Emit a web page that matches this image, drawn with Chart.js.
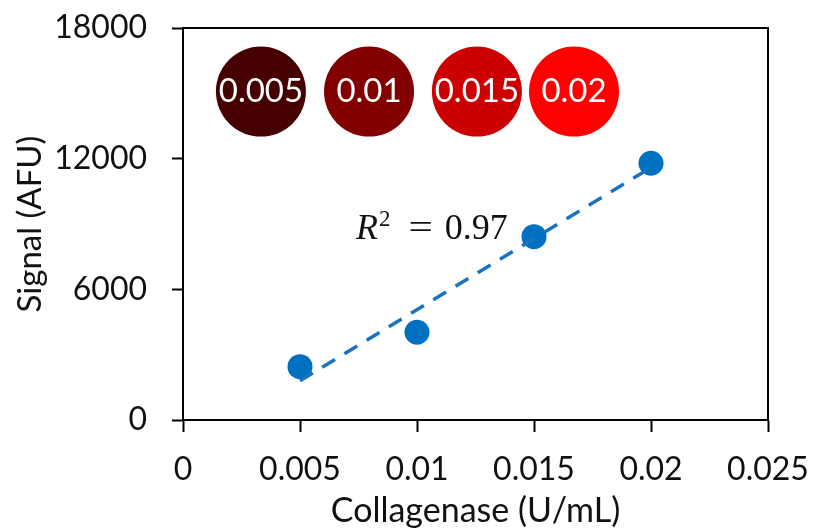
<!DOCTYPE html>
<html><head><meta charset="utf-8">
<script src="https://cdn.jsdelivr.net/npm/chart.js@4.4.0/dist/chart.umd.min.js"></script>
<style>html,body{margin:0;padding:0;background:#fff}</style>
</head><body>
<canvas id="c" width="815" height="531"></canvas>
<script>
// ---- data ----
const concentrations = [0.005, 0.01, 0.015, 0.02];
const signal = [2450, 4030, 8420, 11790];
const trendX = [0.005, 0.02];
const trendY = [1800, 11600];
const xTickValues = [0, 0.005, 0.01, 0.015, 0.02, 0.025];
const xTickLabels = ['0', '0.005', '0.01', '0.015', '0.02', '0.025'];
const yTickValues = [0, 6000, 12000, 18000];
const yTickLabels = ['0', '6000', '12000', '18000'];
const wellLabels = ['0.005', '0.01', '0.015', '0.02'];
const wellX = [0.00333, 0.00795, 0.01256, 0.01671];
const wellY = [15080, 15080, 15080, 15080];
const wellColors = ['#470000', '#820000', '#cc0000', '#ff0000'];
const r2Value = '0.97';
const r2At = {x: 0.00739, y: 8310};
const xTitle = 'Collagenase (U/mL)';
const yTitle = 'Signal (AFU)';

const FONT = 'Lato';
const INK = '#111111';

const framePlugin = {
  id: 'frame',
  afterDatasetsDraw(chart) {
    const {ctx, chartArea: a} = chart;
    ctx.save();
    ctx.strokeStyle = '#000';
    ctx.lineWidth = 2;
    ctx.beginPath();
    ctx.moveTo(a.left, a.top);
    ctx.lineTo(a.right, a.top);
    ctx.lineTo(a.right, a.bottom);
    ctx.stroke();
    // well labels
    const meta = chart.getDatasetMeta(2);
    ctx.fillStyle = '#ffffff';
    ctx.font = '33px ' + FONT;
    ctx.textAlign = 'center';
    ctx.textBaseline = 'middle';
    meta.data.forEach((el, i) => {
      ctx.fillText(wellLabels[i], el.x, el.y);
    });
    // R^2 annotation
    const xs = chart.scales.x, ys = chart.scales.y;
    let px = xs.getPixelForValue(r2At.x);
    const py = ys.getPixelForValue(r2At.y);
    ctx.fillStyle = INK;
    ctx.textAlign = 'left';
    ctx.textBaseline = 'alphabetic';
    ctx.font = 'italic 36px "Liberation Serif"';
    ctx.fillText('R', px, py);
    px += ctx.measureText('R').width + 1;
    ctx.font = '23px "Liberation Serif"';
    ctx.fillText('2', px, py - 13);
    px += ctx.measureText('2').width + 18;
    ctx.font = '36px "Liberation Serif"';
    ctx.save();
    ctx.scale(1.2, 1);
    ctx.fillText('=', px / 1.2, py);
    ctx.restore();
    px += ctx.measureText('=').width * 1.2 + 12;
    ctx.fillText(r2Value, px, py);
    ctx.restore();
  }
};

new Chart(document.getElementById('c'), {
  type: 'scatter',
  data: {
    datasets: [
      {
        label: 'trend',
        type: 'line',
        data: trendX.map((x, i) => ({x, y: trendY[i]})),
        borderColor: '#1a73c2',
        borderWidth: 3.5,
        borderDash: [15, 11],
        pointRadius: 0,
        fill: false,
        order: 0
      },
      {
        label: 'signal',
        data: concentrations.map((x, i) => ({x, y: signal[i]})),
        backgroundColor: '#0070C0',
        borderWidth: 0,
        pointRadius: 12.5,
        order: 1
      },
      {
        label: 'wells',
        data: wellX.map((x, i) => ({x, y: wellY[i]})),
        backgroundColor: wellColors,
        borderWidth: 0,
        pointRadius: 45,
        order: 2
      }
    ]
  },
  options: {
    responsive: false,
    animation: false,
    events: [],
    layout: {autoPadding: false, padding: {left: 0, right: 47, top: 28, bottom: 0}},
    plugins: {legend: {display: false}, tooltip: {enabled: false}},
    scales: {
      x: {
        type: 'linear',
        min: 0, max: 0.025,
        afterBuildTicks: s => { s.ticks = xTickValues.map(v => ({value: v})); },
        afterFit: s => { s.height = 111; s.paddingLeft = 0; s.paddingRight = 0; },
        grid: {drawOnChartArea: false, drawTicks: true, tickLength: 12, tickColor: '#000', tickWidth: 2},
        border: {display: true, color: '#000', width: 2},
        ticks: {
          padding: 18,
          color: INK,
          font: {family: FONT, size: 32},
          maxRotation: 0,
          autoSkip: false,
          callback: (v, i) => xTickLabels[i]
        },
        title: {display: true, text: xTitle, color: INK, font: {family: FONT, size: 34}, padding: {top: 0, bottom: 0}}
      },
      y: {
        type: 'linear',
        min: 0, max: 18000,
        afterBuildTicks: s => { s.ticks = yTickValues.map(v => ({value: v})); },
        afterFit: s => { s.width = 183; s.paddingTop = 0; s.paddingBottom = 0; },
        grid: {drawOnChartArea: false, drawTicks: true, tickLength: 11, tickColor: '#000', tickWidth: 2},
        border: {display: true, color: '#000', width: 2},
        ticks: {
          padding: 25,
          color: INK,
          font: {family: FONT, size: 32},
          autoSkip: false,
          callback: (v, i) => yTickLabels[i]
        },
        title: {display: true, text: yTitle, color: INK, font: {family: FONT, size: 33}, padding: {top: 11, bottom: 0}}
      }
    }
  },
  plugins: [framePlugin]
});
</script>
</body></html>
